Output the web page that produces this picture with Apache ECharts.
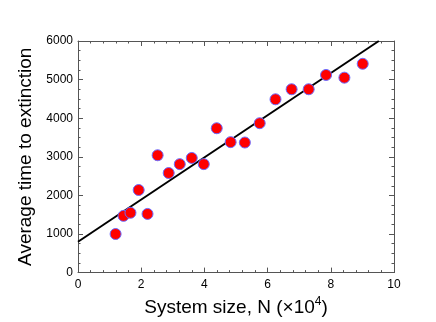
<!DOCTYPE html>
<html>
<head>
<meta charset="utf-8">
<script src="https://cdn.jsdelivr.net/npm/echarts@6/dist/echarts.min.js"></script>
<style>
  html, body { margin: 0; padding: 0; background: #fff; }
  #chart { width: 436px; height: 322px; }
</style>
</head>
<body>
<div id="chart"></div>
<script>
// system size N (x10^4) and mean extinction time
const sizes = [1.19, 1.44, 1.66, 1.92, 2.2, 2.52, 2.87, 3.22, 3.6, 3.98,
               4.39, 4.83, 5.28, 5.75, 6.25, 6.76, 7.3, 7.85, 8.43, 9.01];
const times = [1000, 1470, 1550, 2140, 1520, 3040, 2580, 2810, 2970, 2810,
               3740, 3380, 3370, 3870, 4490, 4750, 4750, 5120, 5050, 5410];
// fitted line endpoints
const fitX = [0, 9.52];
const fitY = [800, 6000];

const xTicks = [0, 2, 4, 6, 8, 10];
const yTicks = [0, 1000, 2000, 3000, 4000, 5000, 6000];

const chart = echarts.init(document.getElementById('chart'));
const font = 'Liberation Sans, Arial, sans-serif';
const axisGray = '#555';

function frameAxis(extra) {
    return Object.assign({
        axisLine: { show: true, onZero: false, lineStyle: { color: axisGray, width: 1 } },
        axisTick: { show: true, inside: true, length: 5, lineStyle: { color: axisGray } },
        minorTick: { show: true, length: 2.5, lineStyle: { color: axisGray } },
        splitLine: { show: false },
        axisLabel: { show: false }
    }, extra);
}

chart.setOption({
    animation: false,
    grid: { left: 78, right: 42, top: 41, bottom: 48 },
    xAxis: [
        frameAxis({
            type: 'value', min: xTicks[0], max: xTicks[xTicks.length - 1], interval: 2,
            minorTick: { show: true, splitNumber: 5, length: 2.5, lineStyle: { color: axisGray } },
            axisLabel: { show: true, color: '#000', fontSize: 12, fontFamily: font, margin: 6 },
            name: '{a|System size, N (×10}{s|4}{a|)}',
            nameLocation: 'middle', nameGap: 20,
            nameTextStyle: {
                rich: {
                    a: { fontSize: 19, fontFamily: font, color: '#000' },
                    s: { fontSize: 12, fontFamily: font, color: '#000', verticalAlign: 'top', padding: [0, 0, 12, 0] }
                }
            }
        }),
        frameAxis({
            type: 'value', position: 'top', min: xTicks[0], max: xTicks[xTicks.length - 1], interval: 2,
            minorTick: { show: true, splitNumber: 5, length: 2.5, lineStyle: { color: axisGray } }
        })
    ],
    yAxis: [
        frameAxis({
            type: 'value', min: yTicks[0], max: yTicks[yTicks.length - 1], interval: 1000,
            minorTick: { show: true, splitNumber: 4, length: 2.5, lineStyle: { color: axisGray } },
            axisLabel: { show: true, color: '#000', fontSize: 12, fontFamily: font, margin: 5,
                         formatter: v => String(v) },
            name: 'Average time to extinction',
            nameLocation: 'middle', nameGap: 40,
            nameTextStyle: { fontSize: 19, fontFamily: font, color: '#000' }
        }),
        frameAxis({
            type: 'value', position: 'right', min: yTicks[0], max: yTicks[yTicks.length - 1], interval: 1000,
            minorTick: { show: true, splitNumber: 4, length: 2.5, lineStyle: { color: axisGray } }
        })
    ],
    series: [
        {
            type: 'line',
            data: fitX.map((x, i) => [x, fitY[i]]),
            symbol: 'none',
            lineStyle: { color: '#000', width: 2 },
            z: 2
        },
        {
            type: 'scatter',
            data: sizes.map((x, i) => [x, times[i]]),
            symbolSize: 11,
            itemStyle: { color: '#ff0000', borderColor: '#6a6aff', borderWidth: 1, opacity: 1 },
            z: 3
        }
    ]
});
</script>
</body>
</html>
